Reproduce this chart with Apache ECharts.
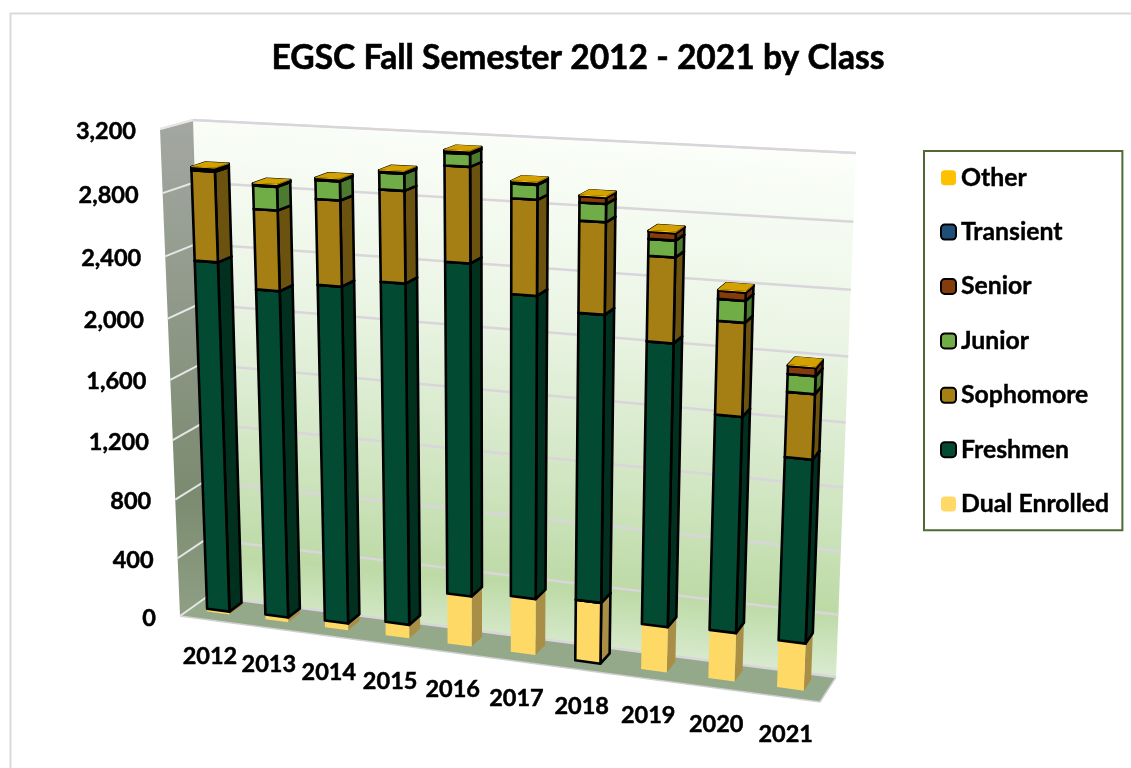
<!DOCTYPE html>
<html><head><meta charset="utf-8">
<style>html,body{margin:0;padding:0;background:#fff}#c{width:1131px;height:768px}</style>
<script src="https://cdn.jsdelivr.net/npm/echarts@6/dist/echarts.min.js"></script>
</head><body><div id="c"></div>
<script>
const years=['2012','2013','2014','2015','2016','2017','2018','2019','2020','2021'];
const yTicks=[0,400,800,1200,1600,2000,2400,2800,3200];
const dual=[20,33,46,91,335,370,398,294,311,300];
const freshmen=[2333,2165,2211,2215,2125,1921,1809,1773,1348,1140];
const sophomore=[575,510,538,572,586,581,556,514,565,394];
const junior=[10,148,118,104,77,89,108,100,130,107];
const senior=[6,8,8,8,10,8,38,44,50,49];
const transient=[4,4,4,4,5,5,3,3,3,3];
const other=[5,5,5,5,6,6,6,6,6,6];
const outlinedDualYears=['2018'];
const FONT='Lato, Carlito, sans-serif';
const frontQuad=[[180,616],[820,702],[842,164],[160,129]];
const backQuad=[[208,596],[836,677],[856,153],[193,120]];
function quad(q){
  const [[x0,y0],[x1,y1],[x2,y2],[x3,y3]]=q;
  const dx1=x1-x2,dx2=x3-x2,sx=x0-x1+x2-x3,dy1=y1-y2,dy2=y3-y2,sy=y0-y1+y2-y3;
  const d=dx1*dy2-dx2*dy1,g=(sx*dy2-dx2*sy)/d,h=(dx1*sy-sx*dy1)/d;
  const a=x1-x0+g*x1,b=x3-x0+h*x3,c=x0,e=y1-y0+g*y1,f=y3-y0+h*y3;
  return (s,t)=>{const w=g*s+h*t+1;return [(a*s+b*t+c)/w,(e*s+f*t+y0)/w];};
}
const F=quad(frontQuad),B=quad(backQuad);
function P(s,t,v){const a=F(s,t),b=B(s,t);return [a[0]+(b[0]-a[0])*v,a[1]+(b[1]-a[1])*v];}
const V0=0.34,V1=0.78,BAR=0.385,SW=2.6;
function norm(api,params,x,y){const c=params.coordSys,p=api.coord([x,y]);return [(p[0]-c.x)/c.width,(c.y+c.height-p[1])/c.height];}
const LG=(st,x0,y0,x1,y1)=>new echarts.graphic.LinearGradient(x0,y0,x1,y1,st.map(a=>({offset:a[0],color:a[1]})),true);
function poly(points,fill,stroke,lw){return {type:'polygon',shape:{points},style:{fill,stroke:stroke||null,lineWidth:stroke?lw:0,lineJoin:'round'}};}
const classes=[
 ['Dual Enrolled',dual,'#FFD966','#A98F45','#FFD966',null],
 ['Freshmen',freshmen,'#034A33','#01301F','#02402C','#000'],
 ['Sophomore',sophomore,'#A67F14','#6B520F','#8A6A10','#000'],
 ['Junior',junior,'#70AD47','#4C7A30','#5E9A3A','#000'],
 ['Senior',senior,'#843C0C','#6A300A','#6A300A','#000'],
 ['Transient',transient,'#1F4E79','#163A5A','#163A5A','#000'],
 ['Other',other,'#FFC000','#B98C00','#D4A200',null]
];
const starts=years.map(()=>0);
const barSeries=classes.map(([name,vals,col,side,top,stroke],k)=>{
  const rows=vals.map((v,i)=>{const r=[i,starts[i],starts[i]+v];starts[i]+=v;return r;});
  return {name,type:'custom',coordinateSystem:'cartesian2d',z:5+k,silent:true,clip:false,
    itemStyle:{color:col,borderColor:stroke||col,borderWidth:stroke?2:0},
    encode:{x:0,y:[1,2]},data:rows,
    renderItem(params,api){
      const i=api.value(0),a=api.value(1),b=api.value(2);
      const c=params.coordSys,bw=api.size([1,0])[0]/c.width*BAR;
      const [cs,t0]=norm(api,params,i,a),t1=norm(api,params,i,b)[1];
      const s0=cs-bw/2,s1=cs+bw/2;
      const st=(name==='Dual Enrolled'&&outlinedDualYears.includes(years[i]))?'#000':stroke;
      return {type:'group',children:[
        poly([P(s1,t0,V0),P(s1,t0,V1),P(s1,t1,V1),P(s1,t1,V0)],side,st,SW),
        poly([P(s0,t0,V0),P(s1,t0,V0),P(s1,t1,V0),P(s0,t1,V0)],col,st,SW),
        poly([P(s0,t1,V0),P(s1,t1,V0),P(s1,t1,V1),P(s0,t1,V1)],top,st,SW)
      ]};
    }};
});
const wallSeries={type:'custom',coordinateSystem:'cartesian2d',z:1,silent:true,clip:false,data:[[0,0]],encode:{x:0,y:1},
  renderItem(){
    const t=P(.5,1,1),bt=P(.5,0,1);
    const back=[P(0,0,1),P(1,0,1),P(1,1,1),P(0,1,1)];
    const side=[P(0,0,0),P(0,0,1),P(0,1,1),P(0,1,0)];
    const floor=[P(0,0,0),P(1,0,0),P(1,0,1),P(0,0,1)];
    return {type:'group',children:[
      poly(back,LG([[0,'#FBFEF9'],[.35,'#EBF5E5'],[.62,'#D5E8C8'],[.88,'#BDDAA6'],[1,'#D8EACD']],t[0],t[1]-5,t[0]-45,bt[1]+5)),
      poly(side,LG([[0,'#A4A7A2'],[.75,'#7B8B70'],[1,'#8E9F84']],0,120,0,616)),
      poly(floor,'#93A98A'),
      {type:'polyline',shape:{points:[P(0,0,0),P(1,0,0),P(1,0,1)]},style:{fill:null,stroke:'#CFCFCF',lineWidth:1.5}},
      {type:'polyline',shape:{points:[P(0,1,0),P(0,1,1),P(1,1,1)]},style:{fill:null,stroke:'#DCDCDC',lineWidth:2}}
    ]};
  }};
const gridSeries={type:'custom',coordinateSystem:'cartesian2d',z:2,silent:true,clip:false,encode:{x:0,y:1},
  data:yTicks.map(v=>[0,v]),
  renderItem(params,api){
    const t=norm(api,params,0,api.value(1))[1];
    return {type:'group',children:[
      {type:'line',shape:{x1:P(0,t,0)[0],y1:P(0,t,0)[1],x2:P(0,t,1)[0],y2:P(0,t,1)[1]},style:{stroke:'#E6E6E6',lineWidth:2}},
      {type:'line',shape:{x1:P(0,t,1)[0],y1:P(0,t,1)[1],x2:P(1,t,1)[0],y2:P(1,t,1)[1]},style:{stroke:'#D9D5DA',lineWidth:2.5}}
    ]};
  }};
const labelStyle={fontFamily:FONT,fontWeight:'bold',fontSize:23.5,fill:'#000',stroke:'#000',lineWidth:0.5};
const yLabelSeries={type:'custom',coordinateSystem:'cartesian2d',z:12,silent:true,clip:false,encode:{x:0,y:1},
  data:yTicks.map(v=>[0,v]),
  renderItem(params,api){
    const v=api.value(1),t=norm(api,params,0,v)[1],p=P(0,t,0);
    return {type:'text',x:p[0]-24,y:p[1]+2,style:{...labelStyle,text:v.toLocaleString('en-US'),align:'right',verticalAlign:'middle'}};
  }};
const xLabelSeries={type:'custom',coordinateSystem:'cartesian2d',z:12,silent:true,clip:false,encode:{x:0,y:1},
  data:years.map((y,i)=>[i,0]),
  renderItem(params,api){
    const i=api.value(0),s=norm(api,params,i,0)[0],p=P(s,0,0);
    return {type:'text',x:p[0]+1,y:p[1]+37,style:{...labelStyle,text:years[i],align:'center',verticalAlign:'middle'}};
  }};
const chart=echarts.init(document.getElementById('c'),null,{renderer:'canvas'});
chart.setOption({
  animation:false,backgroundColor:'#fff',
  title:{text:'EGSC Fall Semester 2012 - 2021 by Class',left:573,top:36,textAlign:'center',
    textStyle:{fontFamily:FONT,fontWeight:'bold',fontSize:33.6,color:'#000',textBorderColor:'#000',textBorderWidth:0.6}},
  grid:{left:180,top:129,width:640,height:487},
  xAxis:{type:'category',data:years,show:false},
  yAxis:{type:'value',min:0,max:3200,interval:400,show:false},
  legend:{orient:'vertical',left:924,top:151,padding:[14,13,13.5,16],itemWidth:15,itemHeight:15,itemGap:29,
    borderColor:'#4F6B33',borderWidth:2,backgroundColor:'#fff',selectedMode:false,
    data:['Other','Transient','Senior','Junior','Sophomore','Freshmen','Dual Enrolled'],
    textStyle:{fontFamily:FONT,fontWeight:'bold',fontSize:24.8,color:'#000',textBorderColor:'#000',textBorderWidth:0.4}},
  graphic:[{type:'polyline',silent:true,shape:{points:[[1131,13.5],[10.5,13.5],[10.5,768]]},style:{fill:null,stroke:'#D9D9D9',lineWidth:2}}],
  series:[wallSeries,gridSeries,...barSeries,yLabelSeries,xLabelSeries]
});
</script></body></html>
